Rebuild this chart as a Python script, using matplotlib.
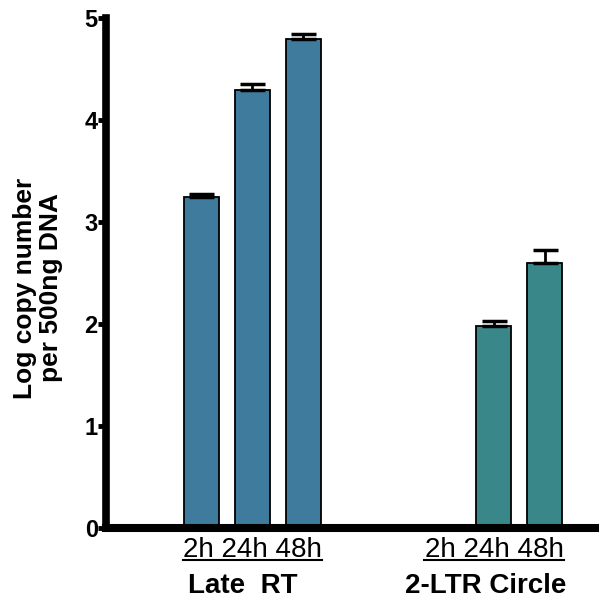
import numpy as np
import matplotlib
matplotlib.use('Agg')
import matplotlib.pyplot as plt
import matplotlib.transforms as mtransforms

plt.rcParams['font.family'] = ['Liberation Sans', 'DejaVu Sans']

times = ['2h', '24h', '48h']
groups = ['Late  RT', '2-LTR Circle']
late_rt = [3.25, 4.29, 4.79]
late_rt_err = [0.025, 0.06, 0.05]
ltr = [np.nan, 1.98, 2.60]
ltr_err = [np.nan, 0.045, 0.13]

pos_rt = np.array([0, 1, 2])
pos_ltr = np.array([4.75, 5.75, 6.75])
col_rt = '#3e7b9c'
col_ltr = '#3a878a'

fig = plt.figure(figsize=(6, 6), dpi=100)
ax = fig.add_axes([0.177, 0.12, 0.815, 0.85])

err_kw = dict(ecolor='black', elinewidth=2, capsize=9, capthick=2.5)
ax.bar(pos_rt, late_rt, width=0.69, color=col_rt, edgecolor='black', linewidth=1.3,
       yerr=[np.zeros(3), late_rt_err], error_kw=err_kw, zorder=2)
ax.bar(pos_ltr, ltr, width=0.69, color=col_ltr, edgecolor='black', linewidth=1.3,
       yerr=[np.zeros(3), ltr_err], error_kw=err_kw, zorder=2)

ax.set_xlim(-1.87, 7.74)
ax.set_ylim(0, 5)
ax.set_yticks([0, 1, 2, 3, 4, 5])
ax.set_xticks([])
ax.spines['top'].set_visible(False)
ax.spines['right'].set_visible(False)
ax.spines['left'].set_linewidth(5.5)
ax.spines['bottom'].set_linewidth(5.8)
ax.spines['bottom'].set_zorder(3)
ax.tick_params(axis='y', direction='out', length=6, width=3.5, labelsize=17, pad=0)
for t in ax.get_yticklabels():
    t.set_fontweight('bold')

trans = mtransforms.blended_transform_factory(ax.transData, ax.transAxes)
for pos in [pos_rt, pos_ltr]:
    c = pos.mean()
    ax.text(c, -0.057, ' '.join(times), transform=trans, ha='center', va='baseline',
            fontsize=20)
    ax.plot([c - 1.37, c + 1.37], [-0.063, -0.063], transform=trans, color='black',
            lw=1.5, clip_on=False)

ax.text(0.81, -0.127, groups[0], transform=trans, ha='center', va='baseline',
        fontsize=20, fontweight='bold')
ax.text(5.58, -0.127, groups[1], transform=trans, ha='center', va='baseline',
        fontsize=20, fontweight='bold')

fig.text(0.063, 0.52, 'Log copy number\nper 500ng DNA', rotation=90, ha='center',
         va='center', fontsize=19, fontweight='bold', linespacing=1.1)

fig.savefig('out.png', dpi=100)
